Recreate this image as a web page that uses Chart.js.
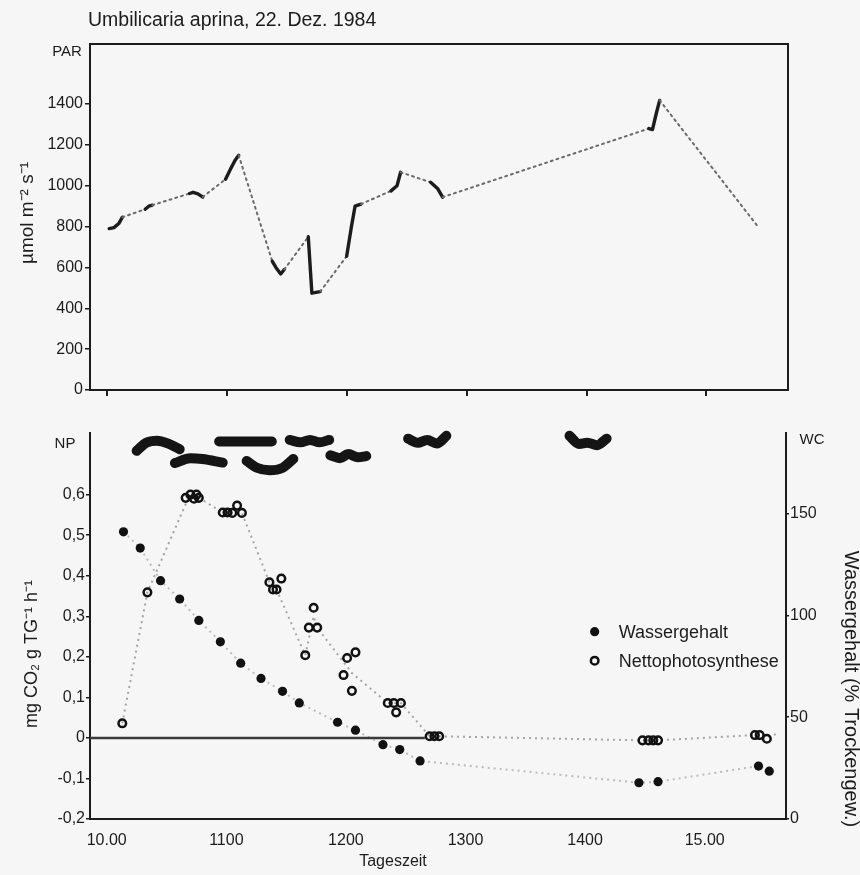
<!DOCTYPE html>
<html><head><meta charset="utf-8">
<script src="https://cdn.jsdelivr.net/npm/chart.js@4.4.1/dist/chart.umd.min.js"></script>
<style>
html,body{margin:0;padding:0;background:#f6f6f6;}
#wrap{position:relative;width:860px;height:875px;overflow:hidden;background:#f6f6f6;}
#c1{position:absolute;left:0;top:0;}
#c2{position:absolute;left:0;top:415px;}
</style></head><body>
<div id="wrap"><canvas id="c1" width="860" height="410"></canvas><canvas id="c2" width="860" height="460"></canvas></div>
<script>
// ---------- data ----------
const chartTitle = 'Umbilicaria aprina, 22. Dez. 1984';
const xMin = 9.86, xMax = 15.68;
const hourTicks = [10, 11, 12, 13, 14, 15];
const hourLabels = ['10.00', '1100', '1200', '1300', '1400', '15.00'];

const parTicks = [0, 200, 400, 600, 800, 1000, 1200, 1400];
const parTime  = [10.02,10.06,10.10,10.13,10.32,10.35,10.38,10.69,10.72,10.76,10.80,10.99,11.03,11.07,11.10,11.38,11.41,11.45,11.48,11.68,11.71,11.78,12.00,12.04,12.07,12.12,12.37,12.42,12.45,12.70,12.76,12.80,14.52,14.55,14.58,14.61,15.42];
const parValue = [790,795,815,846,885,900,905,962,968,960,945,1032,1080,1125,1149,630,600,568,590,750,474,482,655,800,900,910,975,1000,1066,1017,985,944,1280,1275,1350,1418,807];
// 1 = measured (solid) segment to the next point, 0 = interpolated (dotted)
const parMeasured = [1,1,1,0,1,1,0,1,1,1,0,1,1,1,0,1,1,1,0,1,1,0,1,1,1,0,1,1,0,1,1,0,1,1,1,0];

const npTickValues = [-0.2,-0.1,0,0.1,0.2,0.3,0.4,0.5,0.6];
const npTickLabels = ['-0,2','-0,1','0','0,1','0,2','0,3','0,4','0,5','0,6'];
const wcTicks = [0, 50, 100, 150];

const wcTime  = [10.14,10.28,10.45,10.61,10.77,10.95,11.12,11.29,11.47,11.61,11.93,12.08,12.31,12.45,12.62,14.45,14.61,15.45,15.54];
const wcValue = [141,133,117,108,97.5,87,76.5,69,62.7,57,47.5,43.6,36.5,34.1,28.5,17.8,18.3,26,23.5];

const npTime  = [10.13,10.34,10.66,10.70,10.75,10.77,10.73,10.97,11.01,11.05,11.09,11.13,11.36,11.46,11.39,11.42,11.73,11.69,11.76,11.66,12.01,12.08,11.98,12.05,12.35,12.40,12.46,12.42,12.70,12.74,12.78,14.48,14.53,14.57,14.61,15.42,15.46,15.52];
const npValue = [0.036,0.359,0.592,0.600,0.600,0.592,0.590,0.556,0.556,0.555,0.573,0.555,0.384,0.393,0.366,0.366,0.321,0.272,0.272,0.204,0.197,0.211,0.155,0.116,0.086,0.086,0.086,0.063,0.004,0.004,0.004,-0.006,-0.006,-0.006,-0.006,0.007,0.007,-0.002];

const npTrendTime  = [10.13,10.34,10.68,10.77,10.97,11.13,11.36,11.42,11.66,11.73,11.76,12.05,12.35,12.46,12.70,12.78,14.48,14.61,15.42,15.52,15.60];
const npTrendValue = [0.036,0.359,0.59,0.592,0.556,0.555,0.384,0.366,0.204,0.30,0.272,0.16,0.086,0.086,0.004,0.004,-0.006,-0.006,0.007,0.0,0.01];

const zeroLineTime = [xMin, 12.66];
const zeroLineValue = [0, 0];

// thick bars at the top of the lower panel
const barTimes = [
  [10.25,10.33,10.42,10.52,10.61],
  [10.57,10.70,10.80,10.97],
  [10.94,11.16,11.38],
  [11.17,11.25,11.36,11.47,11.56],
  [11.53,11.62,11.70,11.78,11.86],
  [11.87,11.95,12.02,12.10,12.17],
  [12.52,12.60,12.68,12.76,12.84],
  [13.87,13.95,14.02,14.10,14.18]
];
const barLevels = [
  [0.708,0.728,0.733,0.725,0.712],
  [0.678,0.690,0.688,0.679],
  [0.731,0.731,0.731],
  [0.683,0.667,0.660,0.666,0.688],
  [0.735,0.729,0.735,0.729,0.735],
  [0.697,0.690,0.700,0.692,0.695],
  [0.738,0.728,0.735,0.726,0.745],
  [0.745,0.725,0.728,0.722,0.738]
];

// ---------- helpers ----------
const FONT = "'Liberation Sans', Arial, sans-serif";
const INK = '#1c1c1c';
const pts = (xs, ys) => xs.map((x, i) => ({x: x, y: ys[i]}));

const textPlugin = {
  id: 'texts',
  afterDraw(chart, args, opts) {
    const ctx = chart.ctx, a = chart.chartArea;
    (opts.items || []).forEach(it => {
      const p = it.pos(a);
      ctx.save();
      ctx.fillStyle = INK;
      ctx.font = it.font;
      ctx.textAlign = it.align || 'center';
      ctx.textBaseline = 'middle';
      ctx.translate(p[0], p[1]);
      if (it.rot) ctx.rotate(it.rot);
      ctx.fillText(it.text, 0, 0);
      ctx.restore();
    });
  }
};
const framePlugin = {
  id: 'frame',
  afterDatasetsDraw(chart, args, opts) {
    if (!opts.on) return;
    const ctx = chart.ctx, a = chart.chartArea;
    ctx.save();
    ctx.strokeStyle = INK; ctx.lineWidth = 2;
    ctx.strokeRect(a.left, a.top, a.right - a.left, a.bottom - a.top);
    ctx.restore();
  }
};
const legendPlugin = {
  id: 'inlegend',
  afterDraw(chart, args, opts) {
    if (!opts.on) return;
    const ctx = chart.ctx;
    const xs = chart.scales.x, ys = chart.scales.y;
    let x = xs.getPixelForValue(opts.atX), y = ys.getPixelForValue(opts.atY);
    chart.data.datasets.filter(d => d.inLegend).forEach(d => {
      ctx.save();
      ctx.fillStyle = d.pointBackgroundColor;
      ctx.strokeStyle = d.pointBorderColor;
      ctx.lineWidth = d.pointBorderWidth;
      Chart.helpers.drawPoint(ctx, {pointStyle: 'circle', radius: d.pointRadius, borderWidth: d.pointBorderWidth, rotation: 0}, x, y);
      ctx.fillStyle = INK;
      ctx.font = '18px ' + FONT;
      ctx.textBaseline = 'middle';
      ctx.textAlign = 'left';
      ctx.fillText(d.label, x + 24, y + 1);
      ctx.restore();
      y += 29;
    });
  }
};
Chart.register(textPlugin, framePlugin, legendPlugin);

const tickFont = {family: FONT, size: 16};

// ---------- top chart: PAR ----------
new Chart(document.getElementById('c1'), {
  type: 'line',
  data: {
    datasets: [{
      label: 'PAR',
      data: pts(parTime, parValue),
      borderColor: INK,
      borderWidth: 3,
      pointRadius: 0,
      tension: 0,
      borderCapStyle: 'round',
      borderJoinStyle: 'round',
      segment: {
        borderDash: c => parMeasured[c.p0DataIndex] ? [] : [2, 4],
        borderWidth: c => parMeasured[c.p0DataIndex] ? 3.4 : 2,
        borderColor: c => parMeasured[c.p0DataIndex] ? INK : '#6a6a6a'
      }
    }]
  },
  options: {
    responsive: false, animation: false,
    layout: {padding: {top: 44, right: 72, left: 0, bottom: 0}},
    plugins: {
      legend: {display: false}, tooltip: {enabled: false},
      frame: {on: true},
      texts: {items: [
        {text: chartTitle, font: '19.5px ' + FONT, align: 'left', pos: a => [a.left - 2, 21]},
        {text: 'PAR', font: '15px ' + FONT, pos: a => [a.left - 23, 52]},
        {text: 'µmol m⁻² s⁻¹', font: '19px ' + FONT, rot: -Math.PI / 2, pos: a => [28, (a.top + a.bottom) / 2 - 4]}
      ]}
    },
    scales: {
      x: {
        type: 'linear', min: xMin, max: xMax,
        afterBuildTicks: s => { s.ticks = hourTicks.map(v => ({value: v})); },
        ticks: {display: false},
        grid: {display: true, drawOnChartArea: false, drawTicks: true, tickLength: 6, color: INK, lineWidth: 2},
        border: {display: true, color: INK, width: 2},
        afterFit: s => { s.height = 20; }
      },
      y: {
        min: 0, max: 1694,
        afterBuildTicks: s => { s.ticks = parTicks.map(v => ({value: v})); },
        ticks: {color: INK, font: tickFont, padding: 2, callback: v => String(v)},
        grid: {display: true, drawOnChartArea: false, drawTicks: true, tickLength: 5, color: INK, lineWidth: 1.5},
        border: {display: true, color: INK, width: 2},
        afterFit: s => { s.width = 90; }
      }
    }
  }
});

// ---------- bottom chart: NP & WC ----------
const barDatasets = barTimes.map((t, i) => ({
  label: '',
  data: pts(t, barLevels[i]),
  yAxisID: 'y',
  borderColor: '#151515',
  borderWidth: 10,
  borderCapStyle: 'round',
  borderJoinStyle: 'round',
  pointRadius: 0,
  cubicInterpolationMode: 'monotone',
  clip: false
}));

new Chart(document.getElementById('c2'), {
  type: 'line',
  data: {
    datasets: [
      {
        label: 'Wassergehalt', inLegend: true,
        data: pts(wcTime, wcValue), yAxisID: 'y2',
        showLine: false, pointRadius: 4.6, pointBorderWidth: 0,
        pointBackgroundColor: '#111', pointBorderColor: '#111'
      },
      {
        label: 'Nettophotosynthese', inLegend: true,
        data: pts(npTime, npValue), yAxisID: 'y',
        showLine: false, pointRadius: 3.8, pointBorderWidth: 2.5,
        pointBackgroundColor: 'rgba(246,246,246,0)', pointBorderColor: '#111'
      },
      {
        label: '', data: pts(zeroLineTime, zeroLineValue), yAxisID: 'y',
        borderColor: '#3a3a3a', borderWidth: 2.5, pointRadius: 0
      },
      {
        label: '', data: pts(npTrendTime, npTrendValue), yAxisID: 'y',
        borderColor: '#a5a5a5', borderWidth: 2, borderDash: [2, 4], pointRadius: 0
      },
      {
        label: '', data: pts(wcTime, wcValue), yAxisID: 'y2',
        borderColor: '#bcbcbc', borderWidth: 2, borderDash: [2, 4], pointRadius: 0
      },
      ...barDatasets
    ]
  },
  options: {
    responsive: false, animation: false,
    layout: {padding: {top: 18, right: 0, left: 0, bottom: 0}},
    plugins: {
      legend: {display: false}, tooltip: {enabled: false},
      inlegend: {on: true, atX: 14.08, atY: 0.262},
      texts: {items: [
        {text: 'NP', font: '15px ' + FONT, pos: a => [a.left - 25, a.top + 11]},
        {text: 'WC', font: '15px ' + FONT, pos: a => [a.right + 26, a.top + 7]},
        {text: 'mg CO₂ g TG⁻¹ h⁻¹', font: '18px ' + FONT, rot: -Math.PI / 2, pos: a => [32, 239]},
        {text: 'Wassergehalt (% Trockengew.)', font: '20px ' + FONT, rot: Math.PI / 2, pos: a => [851, 274]},
        {text: 'Tageszeit', font: '16px ' + FONT, pos: a => [393, 447]}
      ]}
    },
    scales: {
      x: {
        type: 'linear', min: xMin, max: xMax,
        afterBuildTicks: s => { s.ticks = hourTicks.map(v => ({value: v})); },
        ticks: {color: INK, font: tickFont, padding: 12, callback: v => hourLabels[hourTicks.indexOf(v)]},
        grid: {display: false, drawTicks: false},
        border: {display: true, color: INK, width: 2},
        afterFit: s => { s.height = 56; }
      },
      y: {
        position: 'left', min: -0.2, max: 0.752,
        afterBuildTicks: s => { s.ticks = npTickValues.map(v => ({value: v})); },
        ticks: {color: INK, font: tickFont, padding: 1, callback: (v, i) => npTickLabels[i]},
        grid: {display: true, drawOnChartArea: false, drawTicks: true, tickLength: 4, color: INK, lineWidth: 1.5},
        border: {display: true, color: INK, width: 2},
        afterFit: s => { s.width = 90; }
      },
      y2: {
        position: 'right', min: 0, max: 189.5,
        afterBuildTicks: s => { s.ticks = wcTicks.map(v => ({value: v})); },
        ticks: {color: INK, font: tickFont, padding: 1, callback: v => String(v)},
        grid: {display: true, drawOnChartArea: false, drawTicks: true, tickLength: 3, color: INK, lineWidth: 1.5},
        border: {display: true, color: INK, width: 2},
        afterFit: s => { s.width = 74; }
      }
    }
  }
});
</script>
</body></html>
